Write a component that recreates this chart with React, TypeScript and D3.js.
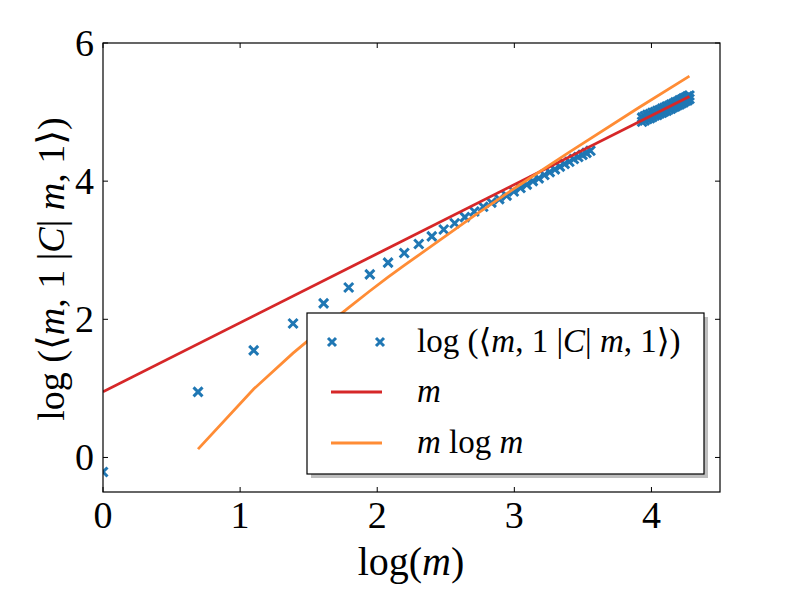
import * as d3 from 'd3'

const WIDTH = 800
const HEIGHT = 600
const PLOT = { left: 103, right: 720, top: 43, bottom: 492 }

const X_TICKS = [0, 1, 2, 3, 4]
const X_TICK_LABELS = ['0', '1', '2', '3', '4']
const Y_TICKS = [0, 2, 4, 6]
const Y_TICK_LABELS = ['0', '2', '4', '6']

// observed log(<m,1|C|m,1>) against log(m), m = 1..35
const obsX = [
  0, 0.693, 1.099, 1.386, 1.609, 1.792, 1.946, 2.079, 2.197, 2.303, 2.398, 2.485,
  2.565, 2.639, 2.708, 2.773, 2.833, 2.89, 2.944, 2.996, 3.045, 3.091, 3.135,
  3.178, 3.219, 3.258, 3.296, 3.332, 3.367, 3.401, 3.434, 3.466, 3.497, 3.526, 3.555,
]
const obsY = [
  -0.21, 0.95, 1.55, 1.94, 2.23, 2.46, 2.65, 2.82, 2.96, 3.09, 3.2, 3.3, 3.39,
  3.48, 3.56, 3.63, 3.69, 3.74, 3.79, 3.85, 3.9, 3.95, 4.0, 4.04, 4.09, 4.13,
  4.17, 4.21, 4.25, 4.28, 4.32, 4.35, 4.38, 4.41, 4.44,
]

// dense cluster at large m (two samples per m)
const clusterX = [
  3.932, 3.951, 3.97, 3.989, 4.007, 4.025, 4.043, 4.06, 4.078, 4.094, 4.111,
  4.127, 4.143, 4.159, 4.174, 4.19, 4.205, 4.22, 4.234, 4.248, 4.263, 4.277,
]
const clusterUpper = [
  4.92, 4.94, 4.96, 4.97, 4.99, 5.0, 5.02, 5.03, 5.05, 5.06, 5.08, 5.09, 5.11,
  5.12, 5.14, 5.15, 5.17, 5.18, 5.2, 5.21, 5.23, 5.24,
]
const clusterLower = [
  4.86, 4.88, 4.9, 4.91, 4.93, 4.95, 4.96, 4.98, 4.99, 5.01, 5.02, 5.04, 5.05,
  5.07, 5.08, 5.1, 5.11, 5.13, 5.14, 5.16, 5.17, 5.19,
]

// fit m
const fitMX = [0, 4.277]
const fitMY = [0.95, 5.227]

// fit m log m
const fitMLogMX = [0.693, 1.099, 1.386, 1.609, 1.792, 1.946, 2.079, 2.197, 2.303, 2.708, 2.996, 3.401, 3.912, 4.277]
const fitMLogMY = [0.12, 0.99, 1.51, 1.88, 2.17, 2.41, 2.61, 2.78, 2.93, 3.5, 3.89, 4.42, 5.07, 5.52]

const BLUE = '#1f77b4'
const RED = '#d62728'
const ORANGE = '#ff8c35'
const FONT = '"Liberation Serif", "DejaVu Serif", serif'

function Cross({ x, y, size = 4.5 }: { x: number; y: number; size?: number }) {
  return (
    <path
      d={`M${x - size},${y - size}L${x + size},${y + size}M${x - size},${y + size}L${x + size},${y - size}`}
      stroke={BLUE}
      strokeWidth={3}
      fill="none"
    />
  )
}

export default function App() {
  const x = d3.scaleLinear().domain([0, 4.5]).range([PLOT.left, PLOT.right])
  const y = d3.scaleLinear().domain([-0.5, 6]).range([PLOT.bottom, PLOT.top])

  const line = d3
    .line<[number, number]>()
    .x((d) => x(d[0]))
    .y((d) => y(d[1]))

  const points: [number, number][] = [
    ...obsX.map((v, i) => [v, obsY[i]] as [number, number]),
    ...clusterX.map((v, i) => [v, clusterUpper[i]] as [number, number]),
    ...clusterX.map((v, i) => [v, clusterLower[i]] as [number, number]),
  ]

  const redPath = line(fitMX.map((v, i) => [v, fitMY[i]]))!
  const orangePath = line(fitMLogMX.map((v, i) => [v, fitMLogMY[i]]))!

  const tickLen = 5
  const leg = { x: 307, y: 313, w: 397, h: 161 }

  return (
    <svg
      width={WIDTH}
      height={HEIGHT}
      style={{ position: 'absolute', left: 0, top: 0, background: '#fff' }}
      fontFamily={FONT}
    >
      <rect width={WIDTH} height={HEIGHT} fill="#fff" />
      <defs>
        <clipPath id="plot-clip">
          <rect x={PLOT.left} y={PLOT.top} width={PLOT.right - PLOT.left} height={PLOT.bottom - PLOT.top} />
        </clipPath>
      </defs>

      <g clipPath="url(#plot-clip)">
        {points.map(([px, py], i) => (
          <Cross key={i} x={x(px)} y={y(py)} />
        ))}
        <path d={redPath} stroke={RED} strokeWidth={2.8} fill="none" />
        <path d={orangePath} stroke={ORANGE} strokeWidth={2.8} fill="none" />
      </g>

      {/* ticks, inward on all sides */}
      <g stroke="#000" strokeWidth={1}>
        {X_TICKS.map((t) => (
          <g key={`xt${t}`}>
            <line x1={x(t)} x2={x(t)} y1={PLOT.bottom} y2={PLOT.bottom - tickLen} />
            <line x1={x(t)} x2={x(t)} y1={PLOT.top} y2={PLOT.top + tickLen} />
          </g>
        ))}
        {Y_TICKS.map((t) => (
          <g key={`yt${t}`}>
            <line x1={PLOT.left} x2={PLOT.left + tickLen} y1={y(t)} y2={y(t)} />
            <line x1={PLOT.right} x2={PLOT.right - tickLen} y1={y(t)} y2={y(t)} />
          </g>
        ))}
      </g>

      <rect
        x={PLOT.left}
        y={PLOT.top}
        width={PLOT.right - PLOT.left}
        height={PLOT.bottom - PLOT.top}
        fill="none"
        stroke="#000"
        strokeWidth={1.2}
      />

      {X_TICKS.map((t, i) => (
        <text key={`xl${t}`} x={x(t)} y={528} fontSize={38} textAnchor="middle">
          {X_TICK_LABELS[i]}
        </text>
      ))}
      {Y_TICKS.map((t, i) => (
        <text key={`yl${t}`} x={94} y={y(t) + 13} fontSize={38} textAnchor="end">
          {Y_TICK_LABELS[i]}
        </text>
      ))}

      <text x={411} y={575} fontSize={40} textAnchor="middle">
        log(<tspan fontStyle="italic">m</tspan>)
      </text>

      <text transform="translate(64,269) rotate(-90)" fontSize={38} textAnchor="middle">
        log (⟨<tspan fontStyle="italic">m</tspan>, 1 |<tspan fontStyle="italic">C</tspan>|{' '}
        <tspan fontStyle="italic">m</tspan>, 1⟩)
      </text>

      {/* legend */}
      <rect x={leg.x + 4} y={leg.y + 4} width={leg.w} height={leg.h} fill="#888" opacity={0.55} />
      <rect x={leg.x} y={leg.y} width={leg.w} height={leg.h} fill="#fff" stroke="#000" strokeWidth={1.2} />
      <Cross x={332} y={342} size={4} />
      <Cross x={380} y={342} size={4} />
      <text x={417} y={352} fontSize={33}>
        log (⟨<tspan fontStyle="italic">m</tspan>, 1 |<tspan fontStyle="italic">C</tspan>|{' '}
        <tspan fontStyle="italic">m</tspan>, 1⟩)
      </text>
      <line x1={331} x2={382} y1={392} y2={392} stroke={RED} strokeWidth={2.8} />
      <text x={417} y={402} fontSize={33} fontStyle="italic">
        m
      </text>
      <line x1={331} x2={382} y1={443} y2={443} stroke={ORANGE} strokeWidth={2.8} />
      <text x={417} y={453} fontSize={33}>
        <tspan fontStyle="italic">m</tspan> log <tspan fontStyle="italic">m</tspan>
      </text>
    </svg>
  )
}
